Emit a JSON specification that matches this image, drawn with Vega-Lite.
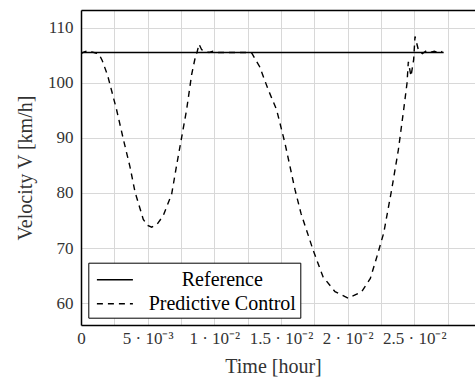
{
  "$schema": "https://vega.github.io/schema/vega-lite/v6.json",
  "autosize": "none",
  "width": 394,
  "height": 315,
  "padding": {"left": 81, "top": 10, "right": 0, "bottom": 56},
  "background": "white",
  "config": {
    "view": {"stroke": null},
    "font": "Liberation Serif",
    "style": {
      "guide-label": {"font": "Liberation Serif"},
      "guide-title": {"font": "Liberation Serif"}
    },
    "axis": {
      "labelFont": "Liberation Serif",
      "titleFont": "Liberation Serif",
      "labelColor": "#333",
      "titleColor": "#333",
      "titleFontWeight": "normal",
      "labelFontSize": 17,
      "titleFontSize": 20,
      "gridColor": "#d8d8d8",
      "gridWidth": 1,
      "ticks": false,
      "domainColor": "black",
      "domainWidth": 1.5,
      "labelOverlap": false,
      "labelBound": false,
      "labelFlush": false
    },
    "legend": {"labelFont": "Liberation Serif"}
  },
  "data": {
    "values": [
      {"t": 0.0, "v": 105.5, "s": "Reference"},
      {"t": 0.0272, "v": 105.5, "s": "Reference"},
      {"t": 0.0, "v": 105.3, "s": "Predictive Control"},
      {"t": 0.00025, "v": 105.6, "s": "Predictive Control"},
      {"t": 0.0005, "v": 105.8, "s": "Predictive Control"},
      {"t": 0.0008, "v": 105.6, "s": "Predictive Control"},
      {"t": 0.0011, "v": 105.4, "s": "Predictive Control"},
      {"t": 0.00135, "v": 105.2, "s": "Predictive Control"},
      {"t": 0.0016, "v": 104.0, "s": "Predictive Control"},
      {"t": 0.002, "v": 101.3, "s": "Predictive Control"},
      {"t": 0.00267, "v": 95.1, "s": "Predictive Control"},
      {"t": 0.0032, "v": 89.5, "s": "Predictive Control"},
      {"t": 0.00367, "v": 84.8, "s": "Predictive Control"},
      {"t": 0.00405, "v": 80.2, "s": "Predictive Control"},
      {"t": 0.00467, "v": 75.2, "s": "Predictive Control"},
      {"t": 0.005, "v": 74.1, "s": "Predictive Control"},
      {"t": 0.0053, "v": 73.8, "s": "Predictive Control"},
      {"t": 0.0057, "v": 74.3, "s": "Predictive Control"},
      {"t": 0.00617, "v": 75.9, "s": "Predictive Control"},
      {"t": 0.0068, "v": 79.8, "s": "Predictive Control"},
      {"t": 0.00717, "v": 85.0, "s": "Predictive Control"},
      {"t": 0.00792, "v": 95.1, "s": "Predictive Control"},
      {"t": 0.0083, "v": 101.5, "s": "Predictive Control"},
      {"t": 0.00855, "v": 104.4, "s": "Predictive Control"},
      {"t": 0.0087, "v": 105.5, "s": "Predictive Control"},
      {"t": 0.00885, "v": 107.0, "s": "Predictive Control"},
      {"t": 0.00905, "v": 106.0, "s": "Predictive Control"},
      {"t": 0.0093, "v": 105.8, "s": "Predictive Control"},
      {"t": 0.0096, "v": 105.5, "s": "Predictive Control"},
      {"t": 0.0099, "v": 105.7, "s": "Predictive Control"},
      {"t": 0.0103, "v": 105.5, "s": "Predictive Control"},
      {"t": 0.0108, "v": 105.5, "s": "Predictive Control"},
      {"t": 0.0125, "v": 105.5, "s": "Predictive Control"},
      {"t": 0.0128, "v": 105.4, "s": "Predictive Control"},
      {"t": 0.0134, "v": 102.9, "s": "Predictive Control"},
      {"t": 0.01405, "v": 98.7, "s": "Predictive Control"},
      {"t": 0.01467, "v": 95.1, "s": "Predictive Control"},
      {"t": 0.0153, "v": 89.0, "s": "Predictive Control"},
      {"t": 0.01605, "v": 80.6, "s": "Predictive Control"},
      {"t": 0.0165, "v": 76.3, "s": "Predictive Control"},
      {"t": 0.0174, "v": 69.7, "s": "Predictive Control"},
      {"t": 0.01815, "v": 64.8, "s": "Predictive Control"},
      {"t": 0.01905, "v": 62.1, "s": "Predictive Control"},
      {"t": 0.02005, "v": 60.9, "s": "Predictive Control"},
      {"t": 0.02105, "v": 62.1, "s": "Predictive Control"},
      {"t": 0.0217, "v": 64.5, "s": "Predictive Control"},
      {"t": 0.0222, "v": 68.5, "s": "Predictive Control"},
      {"t": 0.0227, "v": 72.7, "s": "Predictive Control"},
      {"t": 0.0233, "v": 80.6, "s": "Predictive Control"},
      {"t": 0.0238, "v": 87.8, "s": "Predictive Control"},
      {"t": 0.0242, "v": 95.1, "s": "Predictive Control"},
      {"t": 0.02445, "v": 99.9, "s": "Predictive Control"},
      {"t": 0.02455, "v": 103.8, "s": "Predictive Control"},
      {"t": 0.02475, "v": 101.2, "s": "Predictive Control"},
      {"t": 0.02495, "v": 104.2, "s": "Predictive Control"},
      {"t": 0.02505, "v": 108.4, "s": "Predictive Control"},
      {"t": 0.0253, "v": 106.0, "s": "Predictive Control"},
      {"t": 0.0256, "v": 105.3, "s": "Predictive Control"},
      {"t": 0.0259, "v": 105.8, "s": "Predictive Control"},
      {"t": 0.0262, "v": 105.5, "s": "Predictive Control"},
      {"t": 0.0265, "v": 105.7, "s": "Predictive Control"},
      {"t": 0.0268, "v": 105.4, "s": "Predictive Control"},
      {"t": 0.0271, "v": 105.7, "s": "Predictive Control"}
    ]
  },
  "layer": [
    {
      "mark": {"type": "line", "color": "black", "strokeWidth": 1.4, "clip": true},
      "encoding": {
        "x": {
          "field": "t",
          "type": "quantitative",
          "scale": {"domain": [0, 0.02955], "nice": false, "zero": false},
          "axis": {
            "orient": "bottom",
            "title": "Time [hour]",
            "labelFont": "Liberation Serif",
            "values": [0, 0.0025, 0.005, 0.0075, 0.01, 0.0125, 0.015, 0.0175, 0.02, 0.0225, 0.025, 0.0275],
            "labelExpr": "round(datum.value*4000) == 0 ? '0' : round(datum.value*4000) == 20 ? '5 · 10⁻³' : round(datum.value*4000) == 40 ? '1 · 10⁻²' : round(datum.value*4000) == 60 ? '1.5 · 10⁻²' : round(datum.value*4000) == 80 ? '2 · 10⁻²' : round(datum.value*4000) == 100 ? '2.5 · 10⁻²' : ''",
            "labelPadding": 5,
            "titlePadding": 10,
            "titleX": 192
          }
        },
        "y": {
          "field": "v",
          "type": "quantitative",
          "scale": {"domain": [56.05, 113.2], "nice": false, "zero": false},
          "axis": {
            "title": "Velocity V [km/h]",
            "labelFont": "Liberation Serif",
            "values": [60, 65, 70, 75, 80, 85, 90, 95, 100, 105, 110],
            "labelExpr": "datum.value % 10 == 0 ? datum.label : ''",
            "labelPadding": 8,
            "titlePadding": 12
          }
        },
        "detail": {"field": "s"},
        "strokeDash": {
          "field": "s",
          "type": "nominal",
          "scale": {"domain": ["Reference", "Predictive Control"], "range": [[1, 0], [6, 5]]},
          "legend": {
            "title": null,
            "orient": "none",
            "legendX": 7.3,
            "legendY": 252.7,
            "padding": 4,
            "strokeColor": "black",
            "fillColor": "white",
            "symbolType": "M-0.7,0H2.3",
            "symbolSize": 576,
            "symbolStrokeWidth": 1.5,
            "symbolStrokeColor": "black",
            "labelFont": "Liberation Serif",
            "labelFontSize": 20,
            "labelColor": "black",
            "labelAlign": "center",
            "labelOffset": 104,
            "labelLimit": 300,
            "rowPadding": 1
          }
        }
      }
    },
    {
      "data": {"values": [{"t": 0, "v": 113.2}, {"t": 0.02955, "v": 113.2}]},
      "mark": {"type": "line", "opacity": 0},
      "encoding": {
        "x": {
          "field": "t",
          "type": "quantitative",
          "axis": {"orient": "top", "labels": false, "grid": false, "title": null, "domain": true}
        },
        "y": {"field": "v", "type": "quantitative"}
      }
    }
  ]
}
